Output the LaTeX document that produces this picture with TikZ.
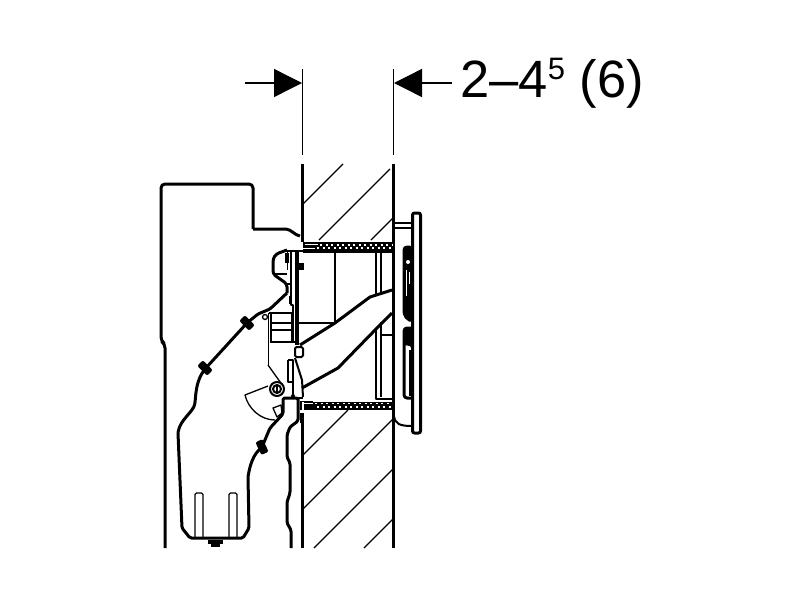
\documentclass[tikz,border=0pt]{standalone}
\usepackage{fontspec}
\setmainfont{Liberation Sans}
\usetikzlibrary{arrows.meta}
\tikzset{
    heavy/.style={line width=3pt, line join=round},
    medium/.style={line width=2pt, line join=round},
    thin line/.style={line width=1.3pt, line join=round},
    dimline/.style={line width=1.4pt, -{Triangle[length=28pt, width=28pt]}},
    dots/.style={white, line width=1.2pt, dash pattern=on 2pt off 3.5pt}
}
\begin{document}
\begin{tikzpicture}[x=1pt, y=-1pt]
    \useasboundingbox (0, 0) rectangle (800, 600);

    % dimension
    \coordinate (startL) at (245, 83);
    \coordinate (tipL) at (302, 83);
    \coordinate (startR) at (452, 83);
    \coordinate (tipR) at (394, 83);
    \coordinate (extL) at (302.5, 69);
    \coordinate (endL) at (302.5, 155);
    \coordinate (extR) at (393.5, 69);
    \coordinate (endR) at (393.5, 155);
    \draw[dimline] (startL) -- (tipL);
    \draw[dimline] (startR) -- (tipR);
    \draw[line width=1.4pt] (extL) -- (endL) (extR) -- (endR);
    \node[anchor=base west, inner sep=0pt, font=\fontsize{52.5}{54}\selectfont] (size) at (460, 97) {2--4\raisebox{18pt}{\fontsize{31}{32}\selectfont 5} (6)};

    % wall
    \draw[heavy] (302.5, 164) -- (302.5, 242);
    \draw[heavy] (302.5, 413) -- (302.5, 548);
    \draw[heavy] (393.5, 164) -- (393.5, 548);
    \foreach \a/\b/\c/\d in {343/164/303/204, 390/169/319/240, 393/218/371/240,
        348/410/303/455, 393/419/303/509, 393/469/314/548, 393/519/364/548}
        \draw[thin line] (\a, \b) -- (\c, \d);

    % sleeves
    \fill (303, 241.5) rectangle (393, 252.5);
    \draw[dots] (320, 245) -- (392, 245);
    \draw[dots] (317, 248) -- (392, 248);
    \draw[white, line width=1pt] (305, 244) -- (318, 244);
    \draw[white, line width=1pt] (300, 248.5) -- (315, 248.5);
    \fill (304, 401.5) rectangle (393, 409.5);
    \draw[dots] (315, 403.5) -- (392, 403.5);
    \draw[dots] (317, 407) -- (392, 407);
    \draw[white, line width=1.2pt] (304, 403.5) -- (313, 403.5);
    \draw[thin line] (300, 401.5) -- (313, 401.5) (301, 401.5) -- (301, 410);

    % cover plate
    \draw[heavy, rounded corners=2pt] (412.5, 213) rectangle (420.5, 433);
    \draw[medium] (393, 223) -- (412, 223);
    \draw[thin line] (393, 228) -- (412, 228);
    \draw[medium] (394, 416) .. controls (395, 424) and (400, 426) .. (412, 426);

    % button holders
    \draw[heavy, fill=black, rounded corners=3pt] (404, 247) -- (412, 247) -- (412, 320) -- (408, 320) -- (404, 314) -- cycle;
    \fill[white] (408, 262) circle (2pt);
    \draw[white, line width=0.6pt] (406.5, 270) -- (406.5, 296) (409, 272) -- (409, 284);
    \draw[heavy, rounded corners=3pt] (412, 328) -- (404, 328) -- (404, 398) -- (412, 398);
    \fill (404, 328) -- (412, 328) -- (412, 350) -- (410, 346) -- (404, 345) -- cycle;
    \fill (409, 350) rectangle (412, 396);

    % rear guide lines
    \draw[line width=2.4pt] (335, 252) -- (335, 323) (298, 323) -- (335, 323);
    \draw[medium] (375.5, 252) -- (375.5, 296) (381, 252) -- (381, 292);
    \draw[medium] (375.5, 328) -- (375.5, 399) -- (393, 399);
    \draw[thin line] (381, 322) -- (381, 397) (381, 335) -- (392, 335);
    \draw[line width=2.4pt] (283, 251) -- (303, 251);

    % tube
    \draw[heavy] (300, 345) -- (335, 323) -- (370, 297) -- (392, 290);
    \draw[heavy] (302, 388) -- (338, 368) -- (377, 328) -- (392, 313);

    % housing
    \draw[heavy, rounded corners=4pt] (165, 548) -- (165, 344) -- (161, 341) -- (161, 184) -- (253, 184) -- (253, 229);
    \draw[heavy] (253, 229) -- (286, 229) .. controls (292, 230) and (293, 234) .. (300, 236);

    % mechanism outline
    \draw[heavy, rounded corners=3pt] (287, 250) -- (276, 254) -- (273, 259) -- (273, 274) -- (287, 284) -- (287, 293);
    \draw[heavy, rounded corners=1.5pt] (287, 293) -- (270, 309) -- (258, 314) -- (247, 323) -- (205, 369)
        .. controls (197, 380) and (196, 390) .. (195, 403)
        .. controls (193, 412) and (180, 420) .. (178, 433)
        -- (182, 528) -- (190, 538) -- (243, 538) -- (249, 528) -- (248, 477)
        .. controls (250, 465) and (253, 455) .. (262, 447)
        -- (270, 428) -- (283, 414) -- (283, 398) -- (298, 398) -- (298, 421) -- (290, 427) -- (287, 435) -- (287, 457)
        -- (290, 463) -- (290, 493) -- (287, 502) -- (287, 523) -- (291, 530) -- (291, 548);
    \draw[line width=4pt] (301.5, 413) -- (301.5, 423);
    \draw[medium] (298, 398) -- (303, 398);

    % screws on the outline
    \foreach \x/\y/\r in {247/323/-45, 205/368/-45, 262/447/-65}
        \fill[rotate around={\r:(\x, \y)}, rounded corners=2pt] (\x-7, \y-4) rectangle (\x+7, \y+4);
    \fill (208, 540) rectangle (223, 544);
    \fill (211, 544) rectangle (220, 547);
    \draw[thin line] (265, 317) circle (2.5);

    % slots
    \draw[thin line, rounded corners=1.5pt] (195, 537) -- (195, 493) -- (203, 493) -- (203, 537);
    \draw[thin line, rounded corners=1.5pt] (229, 537) -- (229, 493) -- (237, 493) -- (237, 537);

    % mechanism inside
    \draw[medium] (295.5, 250) -- (295.5, 345);
    \draw[thin line] (287.5, 252) -- (287.5, 270) (291, 252) -- (291, 305) -- (293, 305) -- (293, 342);
    \draw[thin line] (287, 284) -- (290, 284) (273, 274) -- (287, 274) (290, 296) -- (290, 304);
    \draw[medium] (298, 250) -- (298, 345);
    \fill (285, 253) rectangle (289, 263);
    \fill (298, 263) rectangle (304, 270);
    \draw[thin line] (268.5, 313) -- (268.5, 365) (271, 313) -- (271, 342);
    \draw[medium] (269, 313) -- (292, 313) -- (292, 342);
    \draw[thin line] (270, 323) -- (292, 323);
    \draw[medium] (270, 330) -- (292, 330);
    \draw[medium] (270, 342) -- (295, 342);
    \draw[medium, rounded corners=1.5pt] (295, 347) rectangle (303, 357);
    \draw[medium] (295, 358) -- (302, 380) -- (303, 397);
    \draw[thin line] (288, 360) -- (293, 360) -- (293, 398) (288, 360) -- (288, 382) -- (293, 382);
    \fill (293, 396) circle (2);

    % lever with screw
    \draw[thin line] (268, 365) -- (283, 386);
    \draw[thin line] (268, 386) -- (245, 395) .. controls (248, 408) and (260, 420) .. (275, 420);
    \draw[medium, fill=white] (277, 389) circle (7);
    \draw[medium] (277, 389) circle (4);
    \draw[thin line] (277, 385) -- (277, 393);
    \draw[thin line] (273, 408) -- (281, 405) -- (282, 413) -- (277, 417) -- cycle;
\end{tikzpicture}
\end{document}
